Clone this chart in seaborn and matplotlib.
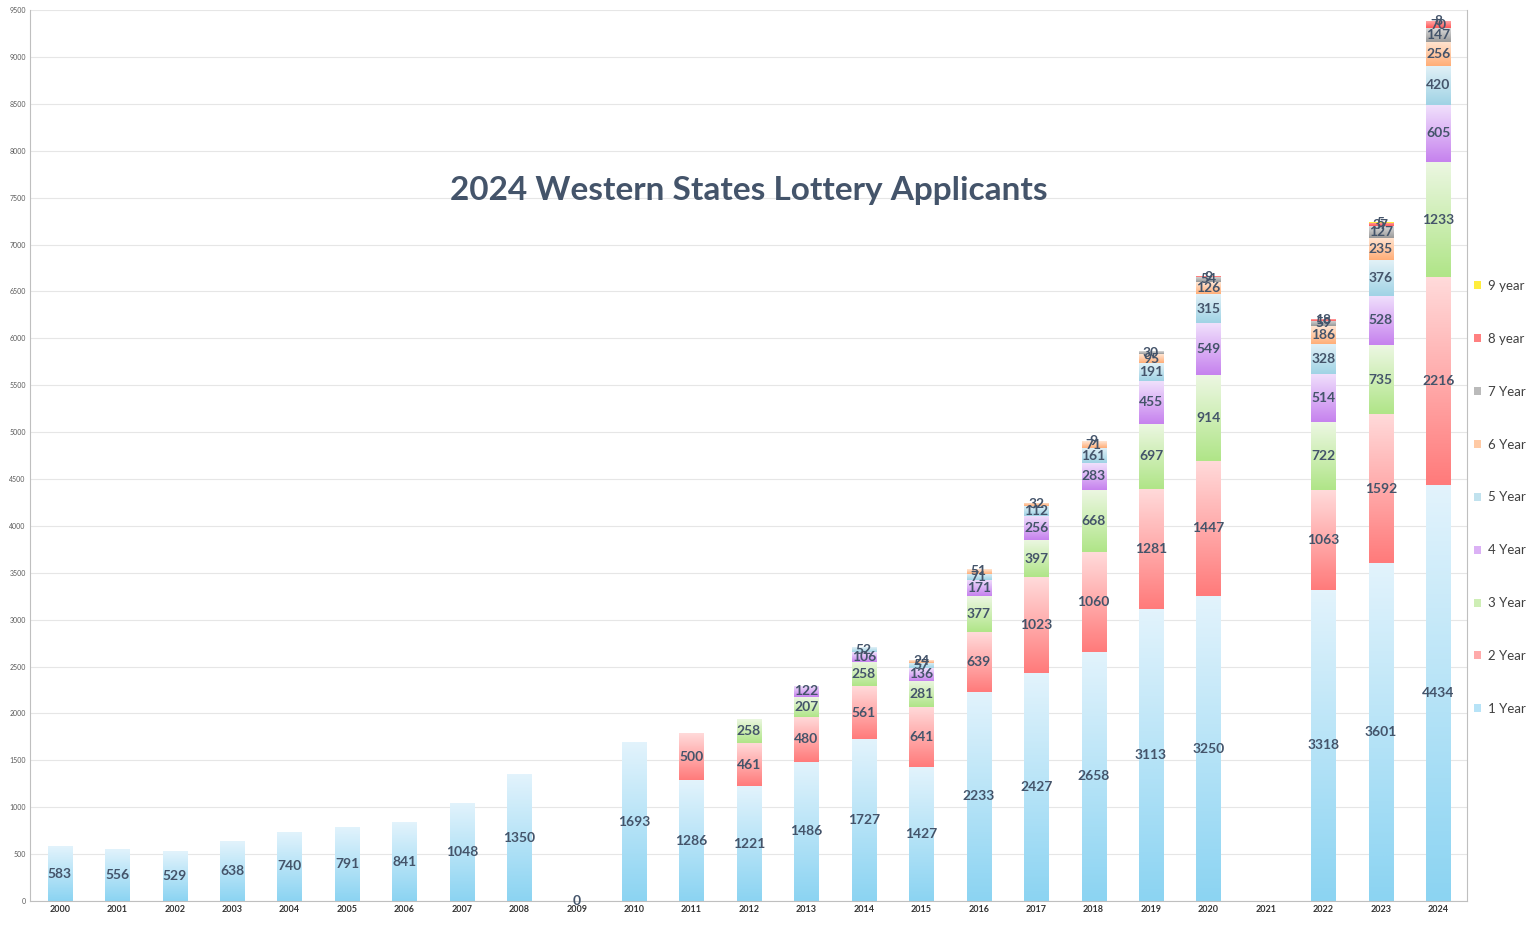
import numpy as np
import pandas as pd
import matplotlib
matplotlib.use("Agg")
import matplotlib.pyplot as plt
import matplotlib.colors as mcolors
import seaborn as sns

years = list(range(2000, 2025))
N = None
y1 = [583, 556, 529, 638, 740, 791, 841, 1048, 1350, 0, 1693, 1286, 1221, 1486, 1727, 1427, 2233, 2427, 2658, 3113, 3250, N, 3318, 3601, 4434]
y2 = [N]*11 + [500, 461, 480, 561, 641, 639, 1023, 1060, 1281, 1447, N, 1063, 1592, 2216]
y3 = [N]*12 + [258, 207, 258, 281, 377, 397, 668, 697, 914, N, 722, 735, 1233]
y4 = [N]*13 + [122, 106, 136, 171, 256, 283, 455, 549, N, 514, 528, 605]
y5 = [N]*14 + [52, 57, 71, 112, 161, 191, 315, N, 328, 376, 420]
y6 = [N]*15 + [24, 51, 32, 71, 95, 126, N, 186, 235, 256]
y7 = [N]*18 + [9, 30, 54, N, 59, 127, 147]
y8 = [N]*20 + [9, N, 18, 37, 70]
y9 = [N]*23 + [5, 8]

series_names = ["1 Year", "2 Year", "3 Year", "4 Year", "5 Year", "6 Year", "7 Year", "8 year", "9 year"]
series_vals = [y1, y2, y3, y4, y5, y6, y7, y8, y9]

# gradient (top, bottom) colours per series
grad = {
    "1 Year": ("#E2F3FC", "#8CD4F2"),
    "2 Year": ("#FFDADA", "#FF7B7B"),
    "3 Year": ("#ECF7E2", "#B0E588"),
    "4 Year": ("#F0E0FC", "#C682EE"),
    "5 Year": ("#E2F1F7", "#A0D3E5"),
    "6 Year": ("#FFE5D2", "#FFAE78"),
    "7 Year": ("#DADADA", "#999999"),
    "8 year": ("#FFA5A5", "#FF5A5A"),
    "9 year": ("#FFF47A", "#FFE600"),
}
mid = {k: mcolors.to_hex(0.5*np.array(mcolors.to_rgb(a)) + 0.5*np.array(mcolors.to_rgb(b))) for k, (a, b) in grad.items()}

rows = []
for name, vals in zip(series_names, series_vals):
    for yr, v in zip(years, vals):
        if v is not None:
            rows.append({"year": yr, "series": name, "count": v})
df = pd.DataFrame(rows)

sns.set_style("white")
plt.rcParams["font.family"] = ["Lato", "DejaVu Sans"]

fig = plt.figure(figsize=(15.36, 9.25), dpi=100)
ax = fig.add_axes([0.0195, 0.026, 0.9355, 0.963])

hue_order = series_names[::-1]
sns.histplot(data=df, x="year", weights="count", hue="series", hue_order=hue_order,
             multiple="stack", discrete=True, shrink=0.42, binrange=(2000, 2024),
             palette=mid, alpha=1, linewidth=0, ax=ax, legend=True, zorder=2)

# gradient fill on each bar
col2name = {tuple(np.round(mcolors.to_rgb(c), 3)): k for k, c in mid.items()}
for p in list(ax.patches):
    h = p.get_height()
    if h <= 0:
        continue
    key = tuple(np.round(mcolors.to_rgb(p.get_facecolor()), 3))
    name = col2name.get(key)
    if name is None:
        continue
    top, bot = grad[name]
    cmap = mcolors.LinearSegmentedColormap.from_list("g", [bot, top])
    g = np.linspace(0, 1, 64).reshape(-1, 1)
    x0, y0, w = p.get_x(), p.get_y(), p.get_width()
    im = ax.imshow(g, cmap=cmap, extent=(x0, x0 + w, y0, y0 + h), origin="lower",
                   aspect="auto", zorder=2.1, interpolation="bilinear")
    im.set_clip_path(p)

# value labels
lab_color = "#44546A"
for i, yr in enumerate(years):
    cum = 0
    for name, vals in zip(series_names, series_vals):
        v = vals[i]
        if v is None:
            continue
        if v > 0 or name == "1 Year":
            ax.text(yr, cum + v / 2, f"{v}", ha="center", va="center", fontsize=10,
                    fontweight="bold", color=lab_color, zorder=5)
        cum += v

ax.set_xlim(1999.48, 2024.5)
ax.set_ylim(0, 9500)
ax.set_xticks(years)
ax.set_xticklabels([str(y) for y in years], fontsize=6.5, fontweight="bold", color="#333333")
ax.set_yticks(range(0, 9501, 500))
ax.set_yticklabels([str(v) for v in range(0, 9501, 500)], fontsize=5, color="#595959")
ax.tick_params(axis="both", length=0, pad=3)
ax.set_xlabel("")
ax.set_ylabel("")
ax.grid(axis="y", color="#E6E6E6", linewidth=0.8, zorder=0)
ax.set_axisbelow(True)
for s in ["left", "right", "bottom"]:
    ax.spines[s].set_color("#BFBFBF")
    ax.spines[s].set_linewidth(0.8)
ax.spines["top"].set_visible(False)

ax.text(0.5, 0.798, "2024 Western States Lottery Applicants", transform=ax.transAxes,
        ha="center", va="center", fontsize=24, fontweight="bold", color="#44546A")

sns.move_legend(ax, loc="center left", bbox_to_anchor=(0.9965, 0.453), frameon=False,
                title=None, labelspacing=3.1, handlelength=0.55, handleheight=0.55,
                handletextpad=0.5, fontsize=9.5)
for t in ax.get_legend().get_texts():
    t.set_color("#404040")

fig.savefig("out.png", dpi=100)
